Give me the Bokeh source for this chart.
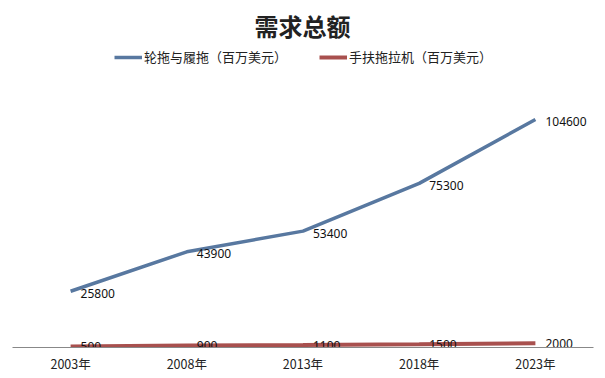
from bokeh.plotting import figure
from bokeh.models import FactorRange, Range1d, Legend, LegendItem, Label, ColumnDataSource
from bokeh.core.properties import value
from bokeh.embed import file_html
from bokeh.resources import INLINE

years = ["2003年", "2008年", "2013年", "2018年", "2023年"]
wheel_track = [25800, 43900, 53400, 75300, 104600]
walking = [500, 900, 1100, 1500, 2000]
title_text = "需求总额"
name_wheel = "轮拖与履拖（百万美元）"
name_walk = "手扶拖拉机（百万美元）"

BLUE = "#5878A0"
RED = "#A8504E"
CJK = "Noto Sans CJK SC"

p = figure(width=605, height=378, output_backend="svg", toolbar_location=None,
           x_range=FactorRange(factors=years, range_padding=0),
           y_range=Range1d(0, 159200),
           min_border_left=12, min_border_right=12, min_border_top=0, min_border_bottom=31)
p.background_fill_color = "white"
p.border_fill_color = "white"
p.outline_line_color = None
p.xgrid.visible = False
p.ygrid.visible = False
p.yaxis.visible = False

ax = p.xaxis[0]
ax.axis_line_color = "#888888"
ax.axis_line_width = 1
ax.major_tick_line_color = None
ax.minor_tick_line_color = None
ax.major_label_standoff = 0
ax.major_label_text_font = CJK
ax.major_label_text_font_size = "12.5px"
ax.major_label_text_color = "#222222"

src = ColumnDataSource(dict(x=years, w=wheel_track, h=walking,
                            wl=[str(v) for v in wheel_track], hl=[str(v) for v in walking]))

r1 = p.line("x", "w", source=src, line_color=BLUE, line_width=3.5)
r2 = p.line("x", "h", source=src, line_color=RED, line_width=4)

p.text("x", "w", text="wl", source=src, x_offset=10, y_offset=2,
       text_font=value("Noto Sans"), text_font_size="12px", text_color="#111111",
       text_baseline="middle", text_align="left")
p.text("x", "h", text="hl", source=src, x_offset=10, y_offset=0,
       text_font=value("Noto Sans"), text_font_size="12px", text_color="#111111",
       text_baseline="middle", text_align="left")

legend = Legend(items=[LegendItem(label=name_wheel, renderers=[r1]),
                       LegendItem(label=name_walk, renderers=[r2])],
                orientation="horizontal", location=(102, 281),
                glyph_width=28, glyph_height=16, label_standoff=2, spacing=32,
                padding=0, margin=0, border_line_color=None, background_fill_alpha=0,
                label_text_font=CJK, label_text_font_size="13px", label_text_color="#222222")
p.add_layout(legend, "center")

p.add_layout(Label(x=290, y=347 - 25, x_units="screen", y_units="screen", text=title_text,
                   text_font=CJK, text_font_style="bold", text_font_size="24px",
                   text_color="#222222", text_align="center", text_baseline="middle"))

open("out.html", "w").write(file_html(p, INLINE))
